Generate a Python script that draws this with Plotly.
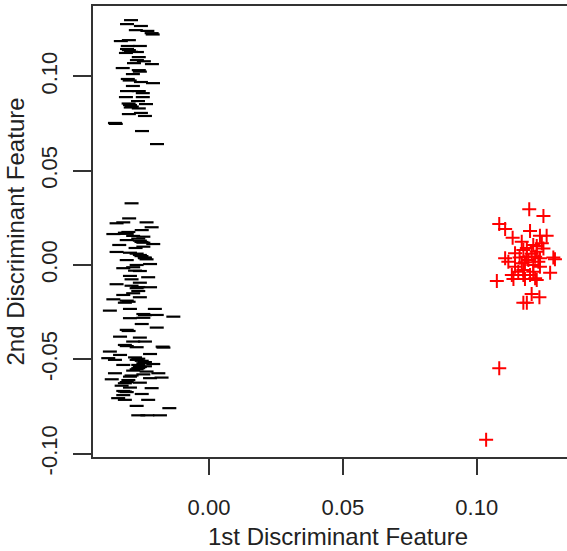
import plotly.graph_objects as go

# Class 1 (black dashes): 1st and 2nd discriminant features
black_x = [
    -0.0291, -0.0306, -0.0254, -0.0273, -0.0230, -0.0214, -0.0210, -0.0329, -0.0299, -0.0303,
    -0.0258, -0.0299, -0.0291, -0.0306, -0.0269, -0.0310, -0.0262, -0.0269, -0.0243, -0.0280,
    -0.0213, -0.0322, -0.0262, -0.0258, -0.0284, -0.0303, -0.0296, -0.0254, -0.0209, -0.0284,
    -0.0306, -0.0262, -0.0247, -0.0310, -0.0247, -0.0265, -0.0295, -0.0288, -0.0300, -0.0235,
    -0.0292, -0.0262, -0.0299, -0.0254, -0.0239, -0.0351, -0.0348, -0.0250, -0.0194,
    -0.0289, -0.0298, -0.0345, -0.0320, -0.0233, -0.0214, -0.0251, -0.0357, -0.0314, -0.0307,
    -0.0283, -0.0245, -0.0258, -0.0252, -0.0307, -0.0208, -0.0335, -0.0245, -0.0274, -0.0345,
    -0.0295, -0.0258, -0.0252, -0.0239, -0.0233, -0.0307, -0.0220, -0.0270, -0.0320, -0.0283,
    -0.0258, -0.0295, -0.0227, -0.0289, -0.0258, -0.0345, -0.0270, -0.0264, -0.0220, -0.0264,
    -0.0320, -0.0283, -0.0258, -0.0357, -0.0307, -0.0300, -0.0370, -0.0295, -0.0202, -0.0245,
    -0.0239, -0.0195, -0.0133, -0.0295, -0.0245, -0.0251, -0.0195, -0.0307, -0.0300, -0.0332,
    -0.0258, -0.0239, -0.0283, -0.0314, -0.0307, -0.0173, -0.0170, -0.0270, -0.0370, -0.0220,
    -0.0332, -0.0376, -0.0270, -0.0264, -0.0351, -0.0245, -0.0239, -0.0208, -0.0320, -0.0264,
    -0.0258, -0.0270, -0.0351, -0.0233, -0.0189, -0.0295, -0.0289, -0.0363, -0.0220, -0.0177,
    -0.0314, -0.0307, -0.0258, -0.0214, -0.0314, -0.0320, -0.0307, -0.0251, -0.0339, -0.0314,
    -0.0227, -0.0270, -0.0148, -0.0264, -0.0230, -0.0183,
    -0.0276, -0.0251, -0.0264, -0.0239, -0.0283, -0.0245, -0.0301, -0.0326, -0.0295, -0.0320,
    -0.0264, -0.0245, -0.0270, -0.0240, -0.0301, -0.0289, -0.0276, -0.0314,
]
black_y = [
    0.1298, 0.1277, 0.1267, 0.1245, 0.1241, 0.1229, 0.1222, 0.1187, 0.1192, 0.1161,
    0.1161, 0.1139, 0.1130, 0.1145, 0.1129, 0.1124, 0.1102, 0.1086, 0.1080, 0.1070,
    0.1065, 0.1044, 0.1033, 0.1025, 0.1012, 0.0986, 0.0978, 0.0970, 0.0964, 0.0949,
    0.0922, 0.0922, 0.0911, 0.0890, 0.0890, 0.0869, 0.0848, 0.0840, 0.0856, 0.0853,
    0.0835, 0.0830, 0.0800, 0.0806, 0.0790, 0.0753, 0.0748, 0.0710, 0.0641,
    0.0327, 0.0247, 0.0221, 0.0226, 0.0226, 0.0200, 0.0185, 0.0164, 0.0171, 0.0165,
    0.0154, 0.0150, 0.0129, 0.0122, 0.0132, 0.0111, 0.0106, 0.0097, 0.0090, 0.0069,
    0.0065, 0.0053, 0.0047, 0.0036, 0.0030, 0.0026, 0.0005, 0.0000, -0.0017, -0.0012,
    -0.0032, -0.0058, -0.0065, -0.0076, -0.0094, -0.0102, -0.0123, -0.0117, -0.0118, -0.0138,
    -0.0159, -0.0150, -0.0171, -0.0182, -0.0189, -0.0195, -0.0242, -0.0233, -0.0233, -0.0260,
    -0.0266, -0.0265, -0.0274, -0.0282, -0.0280, -0.0313, -0.0332, -0.0344, -0.0350, -0.0380,
    -0.0385, -0.0406, -0.0406, -0.0424, -0.0430, -0.0433, -0.0438, -0.0436, -0.0459, -0.0472,
    -0.0477, -0.0494, -0.0503, -0.0497, -0.0503, -0.0521, -0.0515, -0.0525, -0.0530, -0.0547,
    -0.0541, -0.0553, -0.0574, -0.0565, -0.0574, -0.0592, -0.0586, -0.0606, -0.0600, -0.0597,
    -0.0627, -0.0621, -0.0624, -0.0653, -0.0671, -0.0668, -0.0674, -0.0684, -0.0706, -0.0715,
    -0.0715, -0.0747, -0.0759, -0.0797, -0.0797, -0.0797,
    -0.0490, -0.0508, -0.0530, -0.0537, -0.0560, -0.0580, -0.0610, -0.0640, -0.0650, -0.0690,
    0.0140, 0.0118, 0.0060, 0.0040, 0.0175, -0.0110, -0.0030, -0.0200,
]

# Class 2 (red crosses)
red_x = [
    0.1196, 0.1249, 0.1084, 0.1106, 0.1199, 0.1236, 0.1261, 0.1134, 0.1168, 0.1243,
    0.1211, 0.1249, 0.1174, 0.1224, 0.1143, 0.1187, 0.1218, 0.1292, 0.1286, 0.1236,
    0.1106, 0.1193, 0.1118, 0.1230, 0.1168, 0.1211, 0.1236, 0.1143, 0.1174, 0.1155,
    0.1211, 0.1274, 0.1131, 0.1174, 0.1199, 0.1137, 0.1180, 0.1218, 0.1224, 0.1075,
    0.1205, 0.1234, 0.1174, 0.1187, 0.1084, 0.1035,
    0.1187, 0.1205, 0.1180, 0.1224, 0.1160,
]
red_y = [
    0.0295, 0.0260, 0.0217, 0.0191, 0.0180, 0.0155, 0.0155, 0.0145, 0.0123, 0.0115,
    0.0106, 0.0088, 0.0079, 0.0070, 0.0062, 0.0044, 0.0044, 0.0030, 0.0039, 0.0036,
    0.0036, 0.0026, 0.0017, 0.0017, 0.0009, 0.0000, -0.0009, -0.0009, -0.0026, -0.0036,
    -0.0036, -0.0041, -0.0053, -0.0053, -0.0053, -0.0074, -0.0074, -0.0070, -0.0079, -0.0085,
    -0.0154, -0.0171, -0.0200, -0.0200, -0.0547, -0.0926,
    0.0090, 0.0060, 0.0015, 0.0100, 0.0040,
]

x_ticks = [0.00, 0.05, 0.10]
y_ticks = [-0.10, -0.05, 0.00, 0.05, 0.10]
x_title = "1st Discriminant Feature"
y_title = "2nd Discriminant Feature"

fig = go.Figure()
fig.add_trace(go.Scatter(
    x=black_x, y=black_y, mode="markers",
    marker=dict(symbol="line-ew", size=10, color="black",
                line=dict(color="black", width=2.2)),
    showlegend=False, hoverinfo="skip",
))
fig.add_trace(go.Scatter(
    x=red_x, y=red_y, mode="markers",
    marker=dict(symbol="cross-thin", size=10, color="#ff0000",
                line=dict(color="#ff0000", width=2)),
    showlegend=False, hoverinfo="skip",
))

tick_font = dict(family="Liberation Sans, Arial, sans-serif", size=22, color="#222222")
title_font = dict(family="Liberation Sans, Arial, sans-serif", size=24, color="#222222")

fig.update_layout(
    width=567, height=551,
    margin=dict(l=93, r=0, t=6, b=94),
    paper_bgcolor="white", plot_bgcolor="white",
    font=tick_font,
    xaxis=dict(
        range=[-0.0433, 0.1337], tickvals=x_ticks, ticktext=[f"{v:.2f}" for v in x_ticks],
        showgrid=False, zeroline=False, showline=True, mirror=True,
        linecolor="#333333", linewidth=2,
        ticks="outside", ticklen=16, tickwidth=2, tickcolor="#333333",
        ticklabelstandoff=14,
        tickfont=tick_font,
    ),
    yaxis=dict(
        range=[-0.1018, 0.1373], tickvals=y_ticks, ticktext=[f"{v:.2f}" for v in y_ticks],
        showgrid=False, zeroline=False, showline=True, mirror=False,
        linecolor="#333333", linewidth=2,
        ticks="outside", ticklen=18, tickwidth=2, tickcolor="#333333",
        tickangle=-90, ticklabelstandoff=7,
        title=dict(text=y_title, standoff=6, font=title_font),
        tickfont=tick_font,
    ),
    annotations=[dict(
        text=x_title, xref="paper", yref="paper", x=0.516, y=-0.177,
        xanchor="center", yanchor="middle", showarrow=False, font=title_font,
    )],
)

fig.write_html("out.html")
